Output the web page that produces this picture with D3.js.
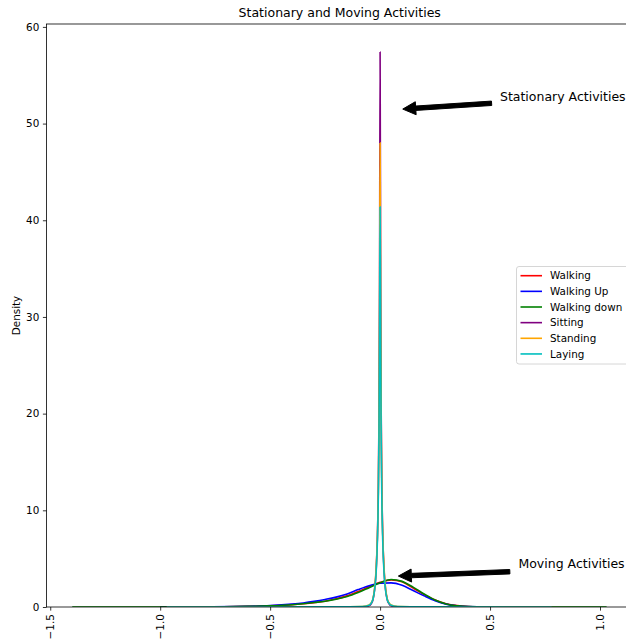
<!DOCTYPE html>
<html>
<head>
<meta charset="utf-8">
<script src="https://cdn.jsdelivr.net/npm/d3@7"></script>
<style>
  body { margin: 0; background: #fff; }
  svg { font-family: "DejaVu Sans", sans-serif; }
</style>
</head>
<body>
<div id="chart"></div>
<script>
// KDE curves
const walkX = [-1.0, -0.8, -0.6, -0.5, -0.4, -0.35, -0.3, -0.25, -0.2, -0.15, -0.1, -0.05, 0, 0.05, 0.1, 0.15, 0.2, 0.25, 0.3, 0.35, 0.4, 0.5, 0.6, 0.78];
const walkDownX = [-1.4].concat(walkX, [1.03]);
const walking = [0, 0.02, 0.06, 0.12, 0.25, 0.34, 0.45, 0.6, 0.85, 1.15, 1.6, 2.1, 2.55, 2.8, 2.6, 1.95, 1.3, 0.72, 0.34, 0.14, 0.05, 0.01, 0.003, 0];
const walkingUp = [0, 0.02, 0.07, 0.14, 0.3, 0.42, 0.58, 0.78, 1.02, 1.35, 1.8, 2.2, 2.45, 2.5, 2.25, 1.7, 1.15, 0.65, 0.3, 0.12, 0.04, 0.01, 0.002, 0];
const walkingDown = [0, 0.004, 0.02, 0.06, 0.12, 0.24, 0.34, 0.46, 0.6, 0.8, 1.08, 1.5, 2.0, 2.5, 2.85, 2.65, 2.05, 1.35, 0.72, 0.32, 0.13, 0.04, 0.01, 0.002, 0, 0];

const statX = [-0.97, -0.2, -0.08, -0.05, -0.04, -0.032, -0.025, -0.018, -0.012, -0.008, -0.005, -0.0025, 0, 0.0025, 0.005, 0.008, 0.012, 0.018, 0.025, 0.032, 0.04, 0.05, 0.08, 0.2, 0.78];
const sitting = [0, 0, 0.02, 0.12, 0.35, 0.8, 1.8, 3.8, 7.5, 12.5, 20, 33, 57.4, 33, 20, 12.5, 7.5, 3.8, 1.8, 0.8, 0.35, 0.12, 0.02, 0, 0];
const standing = [0, 0.01, 0.05, 0.2, 0.45, 0.9, 1.9, 4.0, 7.5, 12, 19, 30, 48, 30, 19, 12, 7.5, 4.0, 1.9, 0.9, 0.45, 0.2, 0.05, 0.01, 0];
const laying = [0, 0.01, 0.04, 0.18, 0.4, 0.85, 1.8, 3.6, 7, 11.5, 18, 28, 41.4, 27, 17, 11, 6.8, 3.5, 1.7, 0.8, 0.4, 0.18, 0.04, 0.01, 0];

const labels = ["Walking", "Walking Up", "Walking down", "Sitting", "Standing", "Laying"];
const colors = ["#ff0000", "#0000ff", "#008000", "#800080", "#ffa500", "#00bfbf"];
const xTicks = [-1.5, -1.0, -0.5, 0.0, 0.5, 1.0];
const yTicks = [0, 10, 20, 30, 40, 50, 60];

// annotations in data units
const notes = [
  { text: "Stationary Activities", pos: [0.545, 52.8], tail: [0.507, 52.1], tip: [0.103, 51.5] },
  { text: "Moving Activities", pos: [0.629, 4.45], tail: [0.59, 3.65], tip: [0.083, 3.2] }
];

const series = [
  { xs: walkX, ys: walking },
  { xs: walkX, ys: walkingUp },
  { xs: walkDownX, ys: walkingDown },
  { xs: statX, ys: sitting },
  { xs: statX, ys: standing },
  { xs: statX, ys: laying }
];

const W = 626, H = 642;
const pLeft = 46.5, pRight = 633, pTop = 24, pBottom = 607;

const svg = d3.select("#chart").append("svg")
  .attr("width", W).attr("height", H);

const x = d3.scaleLinear().domain([-1.517, 1.150]).range([pLeft, pRight]);
const y = d3.scaleLinear().domain([0, 60.3]).range([pBottom, pTop]);

svg.append("defs").append("clipPath").attr("id", "clip")
  .append("rect").attr("x", pLeft).attr("y", pTop)
  .attr("width", pRight - pLeft).attr("height", pBottom - pTop);

const line = d3.line()
  .x(d => x(d[0]))
  .y(d => y(d[1]))
  .curve(d3.curveMonotoneX);

const plot = svg.append("g").attr("clip-path", "url(#clip)");
series.forEach((s, i) => {
  plot.append("path")
    .datum(s.xs.map((v, j) => [v, s.ys[j]]))
    .attr("d", line)
    .attr("fill", "none")
    .attr("stroke", colors[i])
    .attr("stroke-width", 1.6)
    .attr("stroke-linejoin", "round");
});

// axes
const fmt = d => d3.format(".1f")(d).replace("-", "\u2212");
const xAxis = svg.append("g")
  .attr("transform", `translate(0,${pBottom})`)
  .call(d3.axisBottom(x).tickValues(xTicks).tickSize(3.6).tickPadding(3.6).tickFormat(fmt));
xAxis.selectAll("text")
  .attr("transform", "rotate(-90)")
  .attr("x", -7.2).attr("y", 0)
  .attr("dy", "0.35em")
  .style("text-anchor", "end");

const yAxis = svg.append("g")
  .attr("transform", `translate(${pLeft},0)`)
  .call(d3.axisLeft(y).tickValues(yTicks).tickSize(3.6).tickPadding(3.6));

[xAxis, yAxis].forEach(a => {
  a.select(".domain").remove();
  a.selectAll("line").attr("stroke", "#000").attr("stroke-width", 0.8);
  a.selectAll("text").attr("fill", "#000").style("font-size", "10.4px").style("font-family", "DejaVu Sans");
});

// spines
svg.append("rect")
  .attr("x", pLeft).attr("y", pTop)
  .attr("width", pRight - pLeft).attr("height", pBottom - pTop)
  .attr("fill", "none").attr("stroke", "#000").attr("stroke-width", 0.8);

// labels
svg.append("text")
  .attr("x", (pLeft + pRight) / 2).attr("y", 13)
  .attr("text-anchor", "middle").attr("dy", "0.35em")
  .style("font-size", "12.5px")
  .text("Stationary and Moving Activities");

svg.append("text")
  .attr("transform", `translate(16,${(pTop + pBottom) / 2}) rotate(-90)`)
  .attr("text-anchor", "middle").attr("dy", "0.35em")
  .style("font-size", "10.4px")
  .text("Density");

// arrows
function arrowPath(t, h) {
  const x0 = x(t[0]), y0 = y(t[1]), x1 = x(h[0]), y1 = y(h[1]);
  const len = Math.hypot(x1 - x0, y1 - y0);
  const ux = (x1 - x0) / len, uy = (y1 - y0) / len;
  const px = -uy, py = ux;
  const w = 2.2, hw = 6.5, hl = 13;
  const bx = x1 - ux * hl, by = y1 - uy * hl;
  const pts = [
    [x0 + px * w, y0 + py * w],
    [bx + px * w, by + py * w],
    [bx + px * hw, by + py * hw],
    [x1, y1],
    [bx - px * hw, by - py * hw],
    [bx - px * w, by - py * w],
    [x0 - px * w, y0 - py * w]
  ];
  return "M" + pts.map(p => p.join(",")).join("L") + "Z";
}

notes.forEach(n => {
  svg.append("path")
    .attr("d", arrowPath(n.tail, n.tip))
    .attr("fill", "#000").attr("stroke", "#000").attr("stroke-width", 1)
    .attr("stroke-linejoin", "miter");
  svg.append("text")
    .attr("x", x(n.pos[0])).attr("y", y(n.pos[1]))
    .attr("dy", "0.35em")
    .style("font-size", "12.5px")
    .text(n.text);
});

// legend
const lg = svg.append("g").attr("transform", "translate(516.5,266.5)");
lg.append("rect")
  .attr("width", 125).attr("height", 97.5)
  .attr("rx", 2.5)
  .attr("fill", "#fff").attr("fill-opacity", 0.8)
  .attr("stroke", "#cccccc").attr("stroke-width", 0.8);
labels.forEach((l, i) => {
  const yy = 9.2 + i * 15.65;
  lg.append("line")
    .attr("x1", 4).attr("x2", 25.5)
    .attr("y1", yy).attr("y2", yy)
    .attr("stroke", colors[i]).attr("stroke-width", 1.6);
  lg.append("text")
    .attr("x", 33.5).attr("y", yy)
    .attr("dy", "0.35em")
    .style("font-size", "10.4px")
    .text(l);
});
</script>
</body>
</html>
